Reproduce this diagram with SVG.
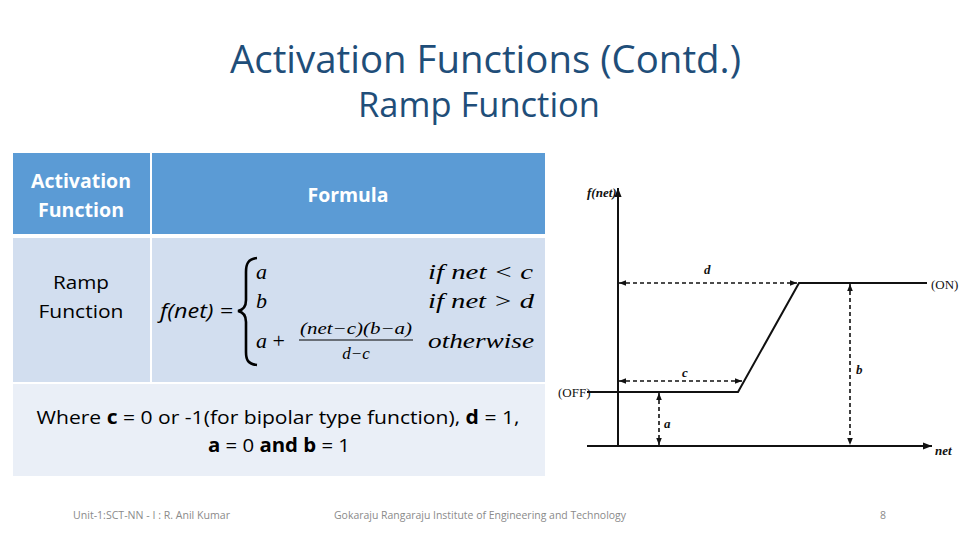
<svg xmlns="http://www.w3.org/2000/svg" width="960" height="540" viewBox="0 0 960 540">
<defs>
<style>
.ttl{font-family:"Open Sans","Liberation Sans",sans-serif;fill:#1F4E79;}
.hd{font-family:"Open Sans","Liberation Sans",sans-serif;font-size:19px;font-weight:bold;fill:#ffffff;text-anchor:middle;}
.bd{font-family:"Open Sans","Liberation Sans",sans-serif;font-size:19px;fill:#000000;text-anchor:middle;}
.m{font-family:"Liberation Serif",serif;font-style:italic;font-size:22px;fill:#000;}
.fr{font-family:"Liberation Serif",serif;font-style:italic;font-size:17px;fill:#000;text-anchor:middle;}
.g{font-family:"Liberation Serif",serif;font-style:italic;font-weight:bold;font-size:13px;fill:#111;}
.gn{font-family:"Liberation Serif",serif;font-size:13px;fill:#111;}
.ft{font-family:"Open Sans","Liberation Sans",sans-serif;font-size:10.5px;fill:#8a8a8a;}
.solid{stroke:#111;stroke-width:2;fill:none;}
.dash{stroke:#111;stroke-width:1.6;fill:none;stroke-dasharray:4 3;}
</style>
<marker id="ah" viewBox="0 0 10 10" refX="10" refY="5" markerWidth="7" markerHeight="7" orient="auto-start-reverse" markerUnits="userSpaceOnUse">
<path d="M0,1 L10,5 L0,9 Z" fill="#111"/>
</marker>
<marker id="ah2" viewBox="0 0 10 10" refX="10" refY="5" markerWidth="9" markerHeight="9" orient="auto-start-reverse" markerUnits="userSpaceOnUse">
<path d="M0,1 L10,5 L0,9 Z" fill="#111"/>
</marker>
</defs>
<rect width="960" height="540" fill="#ffffff"/>

<g id="title">
<text class="ttl" x="230" y="73" font-size="38" textLength="511" lengthAdjust="spacingAndGlyphs">Activation Functions (Contd.)</text>
<text class="ttl" x="358" y="117" font-size="34" textLength="242" lengthAdjust="spacingAndGlyphs">Ramp Function</text>
</g>

<g id="table">
<rect x="13" y="153" width="137" height="81" fill="#5B9BD5"/>
<rect x="152" y="153" width="393" height="81" fill="#5B9BD5"/>
<rect x="13" y="238" width="137" height="144" fill="#D2DEEF"/>
<rect x="152" y="238" width="393" height="144" fill="#D2DEEF"/>
<rect x="13" y="384" width="532" height="92" fill="#EAEFF7"/>
<text class="hd" x="81" y="188" textLength="100" lengthAdjust="spacingAndGlyphs">Activation</text>
<text class="hd" x="81" y="217" textLength="86" lengthAdjust="spacingAndGlyphs">Function</text>
<text class="hd" x="348" y="202" textLength="81" lengthAdjust="spacingAndGlyphs">Formula</text>
<text class="bd" x="81" y="289" textLength="56" lengthAdjust="spacingAndGlyphs">Ramp</text>
<text class="bd" x="81" y="318" textLength="85" lengthAdjust="spacingAndGlyphs">Function</text>
<text class="bd" x="278" y="424" textLength="483" lengthAdjust="spacingAndGlyphs">Where <tspan font-weight="bold">c</tspan> = 0 or -1(for bipolar type function), <tspan font-weight="bold">d</tspan> = 1,</text>
<text class="bd" x="279" y="452" textLength="142" lengthAdjust="spacingAndGlyphs"><tspan font-weight="bold">a</tspan> = 0 <tspan font-weight="bold">and b</tspan> = 1</text>
</g>

<g id="formula">
<text x="160" y="318" font-family="'Open Sans','Liberation Sans',sans-serif" font-style="italic" font-size="20" fill="#000" textLength="73" lengthAdjust="spacingAndGlyphs">f(net) =</text>
<path d="M257,258 C248,259 246,264 246,272 L246,300 C246,306 243,310 238,311 C243,312 246,316 246,322 L246,352 C246,360 248,364 257,365" fill="none" stroke="#000" stroke-width="2.6"/>
<text class="m" x="256" y="279">a</text>
<text class="m" x="256" y="308">b</text>
<text class="m" x="256" y="348">a <tspan style="font-style:normal">+</tspan></text>
<text class="fr" x="356" y="334" textLength="112" lengthAdjust="spacingAndGlyphs">(net−c)(b−a)</text>
<line x1="299" y1="340" x2="413" y2="340" stroke="#000" stroke-width="1.2"/>
<text class="fr" x="356" y="359">d−c</text>
<text class="m" x="428" y="279" textLength="105" lengthAdjust="spacingAndGlyphs">if net &lt; c</text>
<text class="m" x="428" y="308" textLength="106" lengthAdjust="spacingAndGlyphs">if net &gt; d</text>
<text class="m" x="428" y="348" textLength="106" lengthAdjust="spacingAndGlyphs">otherwise</text>
</g>

<g id="graph">
<line class="solid" x1="618" y1="447" x2="618" y2="188" marker-end="url(#ah2)"/>
<line class="solid" x1="587" y1="446" x2="932" y2="446" marker-end="url(#ah2)"/>
<polyline class="solid" points="587,392 738,392 799,283 927,283"/>
<text class="g" x="587" y="197">f(net)</text>
<text class="gn" x="931" y="289">(ON)</text>
<text class="gn" x="558" y="397">(OFF)</text>
<text class="g" x="935" y="455">net</text>
<text class="g" x="704" y="274">d</text>
<text class="g" x="682" y="377">c</text>
<text class="g" x="664" y="428">a</text>
<text class="g" x="856" y="374">b</text>
</g>

<g id="connectors">
<line class="dash" x1="619" y1="283" x2="797" y2="283" marker-start="url(#ah)" marker-end="url(#ah)"/>
<line class="dash" x1="619" y1="381" x2="742" y2="381" marker-start="url(#ah)" marker-end="url(#ah)"/>
<line class="dash" x1="659" y1="393" x2="659" y2="445" marker-start="url(#ah)" marker-end="url(#ah)"/>
<line class="dash" x1="850" y1="284" x2="850" y2="445" marker-start="url(#ah)" marker-end="url(#ah)"/>
</g>

<g id="footer">
<text class="ft" x="73" y="519" textLength="157" lengthAdjust="spacingAndGlyphs">Unit-1:SCT-NN - I : R. Anil Kumar</text>
<text class="ft" x="334" y="519" textLength="292" lengthAdjust="spacingAndGlyphs">Gokaraju Rangaraju Institute of Engineering and Technology</text>
<text class="ft" x="880" y="519">8</text>
</g>
</svg>
